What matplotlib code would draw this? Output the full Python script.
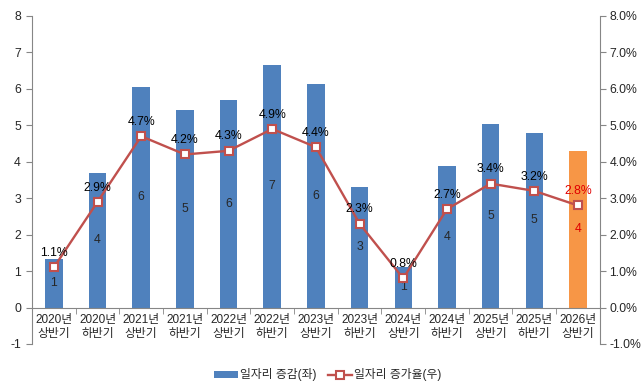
import matplotlib
matplotlib.use("Agg")
import matplotlib.pyplot as plt
import numpy as np
from matplotlib.ticker import FuncFormatter, FixedLocator

plt.rcParams["font.family"] = ["Liberation Sans", "Noto Sans CJK KR"]
plt.rcParams["axes.unicode_minus"] = False

categories = [
    "2020년\n상반기", "2020년\n하반기", "2021년\n상반기", "2021년\n하반기",
    "2022년\n상반기", "2022년\n하반기", "2023년\n상반기", "2023년\n하반기",
    "2024년\n상반기", "2024년\n하반기", "2025년\n상반기", "2025년\n하반기",
    "2026년\n상반기",
]
job_change = [1.34, 3.70, 6.05, 5.43, 5.69, 6.66, 6.14, 3.31, 1.10, 3.89, 5.04, 4.79, 4.30]
job_labels = ["1", "4", "6", "5", "6", "7", "6", "3", "1", "4", "5", "5", "4"]
growth_rate = [1.1, 2.9, 4.7, 4.2, 4.3, 4.9, 4.4, 2.3, 0.8, 2.7, 3.4, 3.2, 2.8]

BLUE = "#4F81BD"
ORANGE = "#F79646"
RED = "#C0504D"
GRAY = "#868686"
TEXT = "#262626"
FS = 8.8

fig = plt.figure(figsize=(6.43, 3.89), dpi=100)
ax = fig.add_axes([0.0498, 0.1157, 0.883, 0.8433])
x = np.arange(len(categories))
colors = [BLUE] * (len(categories) - 1) + [ORANGE]
bars = ax.bar(x, job_change, width=0.4, color=colors, zorder=2, label="일자리 증감(좌)")

for i, (b, lab) in enumerate(zip(bars, job_labels)):
    col = "#E00000" if i == len(categories) - 1 else TEXT
    ax.text(b.get_x() + b.get_width() / 2, b.get_height() / 2, lab,
            ha="center", va="center", fontsize=FS, color=col, zorder=5)

ax.set_xlim(-0.5, len(categories) - 0.5)
ax.set_ylim(-1, 8)
ax.set_yticks(range(-1, 9))
ax.spines["top"].set_visible(False)
ax.spines["right"].set_visible(False)
ax.spines["left"].set_color(GRAY)
ax.spines["bottom"].set_color(GRAY)
ax.spines["bottom"].set_position(("data", 0))
ax.set_xticks(x)
ax.set_xticklabels(categories, linespacing=1.15)
ax.xaxis.set_minor_locator(FixedLocator(np.arange(-0.5, len(categories), 1.0)))
ax.tick_params(axis="x", which="major", length=0, pad=5, labelsize=8.5, labelcolor=TEXT)
ax.tick_params(axis="x", which="minor", length=4, color=GRAY)
ax.tick_params(axis="y", length=4, color=GRAY, labelsize=FS, labelcolor=TEXT, pad=4)

ax2 = ax.twinx()
ax2.set_ylim(-1, 8)
ax2.set_yticks(range(-1, 9))
ax2.yaxis.set_major_formatter(FuncFormatter(lambda v, p: f"{v:.1f}%"))
ax2.spines["top"].set_visible(False)
ax2.spines["left"].set_visible(False)
ax2.spines["bottom"].set_visible(False)
ax2.spines["right"].set_color(GRAY)
ax2.tick_params(axis="y", length=4, color=GRAY, labelsize=FS, labelcolor=TEXT, pad=3)
ax2.plot(x, growth_rate, color=RED, lw=1.7, marker="s", ms=5.5, mfc="white",
         mec=RED, mew=1.5, zorder=4, label="일자리 증가율(우)")
for i, v in enumerate(growth_rate):
    col = "#E00000" if i == len(categories) - 1 else "black"
    ax2.annotate(f"{v:.1f}%", (x[i], v), xytext=(0, 6), textcoords="offset points",
                 ha="center", va="bottom", fontsize=FS, color=col, zorder=6)

h1, l1 = ax.get_legend_handles_labels()
h2, l2 = ax2.get_legend_handles_labels()
fig.legend(h1 + h2, l1 + l2, loc="center", bbox_to_anchor=(0.51, 0.036), ncol=2,
           frameon=False, fontsize=8.5, handlelength=2.0, handleheight=0.5,
           columnspacing=1.0, handletextpad=0.2, labelcolor=TEXT)

fig.savefig("out.png", dpi=100)
